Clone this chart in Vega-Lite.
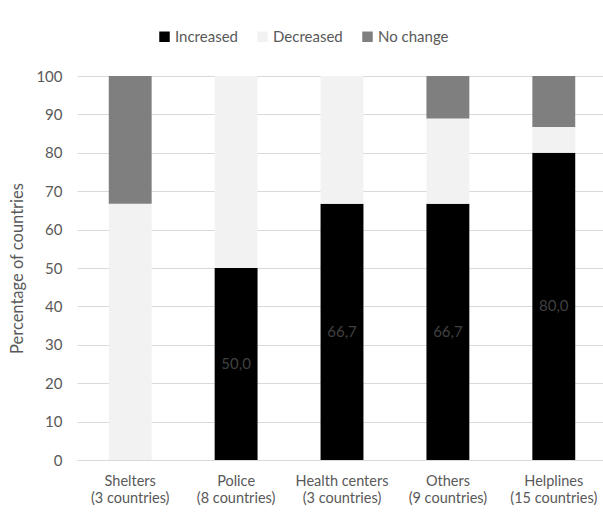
{
  "$schema": "https://vega.github.io/schema/vega-lite/v6.json",
  "autosize": "none",
  "padding": {"left": 77, "top": 76, "right": 0, "bottom": 56},
  "width": 530,
  "height": 384,
  "background": "white",
  "config": {
    "font": "Lato",
    "view": {"stroke": null},
    "locale": {"number": {"decimal": ",", "thousands": ".", "grouping": [3], "currency": ["", " €"]}}
  },
  "data": {
    "values": [
      {"category": "Shelters\n(3 countries)", "type": "Increased", "k": 1, "value": 0},
      {"category": "Shelters\n(3 countries)", "type": "Decreased", "k": 2, "value": 66.7},
      {"category": "Shelters\n(3 countries)", "type": "No change", "k": 3, "value": 33.3},
      {"category": "Police\n(8 countries)", "type": "Increased", "k": 1, "value": 50.0},
      {"category": "Police\n(8 countries)", "type": "Decreased", "k": 2, "value": 50.0},
      {"category": "Police\n(8 countries)", "type": "No change", "k": 3, "value": 0},
      {"category": "Health centers\n(3 countries)", "type": "Increased", "k": 1, "value": 66.7},
      {"category": "Health centers\n(3 countries)", "type": "Decreased", "k": 2, "value": 33.3},
      {"category": "Health centers\n(3 countries)", "type": "No change", "k": 3, "value": 0},
      {"category": "Others\n(9 countries)", "type": "Increased", "k": 1, "value": 66.7},
      {"category": "Others\n(9 countries)", "type": "Decreased", "k": 2, "value": 22.2},
      {"category": "Others\n(9 countries)", "type": "No change", "k": 3, "value": 11.1},
      {"category": "Helplines\n(15 countries)", "type": "Increased", "k": 1, "value": 80.0},
      {"category": "Helplines\n(15 countries)", "type": "Decreased", "k": 2, "value": 6.7},
      {"category": "Helplines\n(15 countries)", "type": "No change", "k": 3, "value": 13.3}
    ]
  },
  "encoding": {
    "x": {
      "field": "category",
      "type": "nominal",
      "sort": null,
      "scale": {"paddingInner": 0.595, "paddingOuter": 0.3},
      "axis": {
        "title": null,
        "labelAngle": 0,
        "labelExpr": "split(datum.label, '\\n')",
        "labelFontSize": 14.5,
        "labelLineHeight": 17.5,
        "labelColor": "#595959",
        "labelPadding": 14,
        "labelOverlap": false,
        "ticks": false,
        "domainColor": "#d9d9d9",
        "domainWidth": 1
      }
    },
    "y": {
      "field": "value",
      "type": "quantitative",
      "scale": {"domain": [0, 100], "nice": false},
      "axis": {
        "title": "Percentage of countries",
        "titleFontSize": 16.5,
        "titleFontWeight": "normal",
        "titleColor": "#595959",
        "titlePadding": 10,
        "values": [0, 10, 20, 30, 40, 50, 60, 70, 80, 90, 100],
        "labelOverlap": false,
        "labelFontSize": 15,
        "labelColor": "#595959",
        "labelPadding": 15,
        "ticks": false,
        "domain": false,
        "gridColor": "#d9d9d9",
        "gridWidth": 1
      }
    }
  },
  "layer": [
    {
      "mark": {"type": "bar"},
      "encoding": {
        "y": {
          "field": "value",
          "type": "quantitative",
          "stack": "zero"
        },
        "color": {
          "field": "type",
          "type": "nominal",
          "scale": {"domain": ["Increased", "Decreased", "No change"], "range": ["#000000", "#f2f2f2", "#7f7f7f"]},
          "legend": {
            "title": null,
            "orient": "none",
            "direction": "horizontal",
            "legendX": 80,
            "legendY": -47,
            "symbolType": "square",
            "symbolSize": 110,
            "symbolStrokeWidth": 0,
            "labelFontSize": 15,
            "labelColor": "#595959",
            "columnPadding": 17,
            "labelOffset": 3
          }
        },
        "order": {"field": "k", "type": "quantitative"}
      }
    },
    {
      "transform": [
        {"filter": "datum.type === 'Increased' && datum.value > 0"},
        {"stack": "value", "groupby": ["category"], "as": ["v0", "v1"]},
        {"fold": ["v0", "v1"], "as": ["end", "pos"]},
        {"aggregate": [{"op": "mean", "field": "pos", "as": "mid"}, {"op": "max", "field": "value", "as": "val"}], "groupby": ["category"]}
      ],
      "mark": {"type": "text", "fontSize": 15, "color": "#404040", "baseline": "middle"},
      "encoding": {
        "y": {"field": "mid", "type": "quantitative"},
        "text": {"field": "val", "type": "quantitative", "format": ".1f"}
      }
    }
  ]
}
